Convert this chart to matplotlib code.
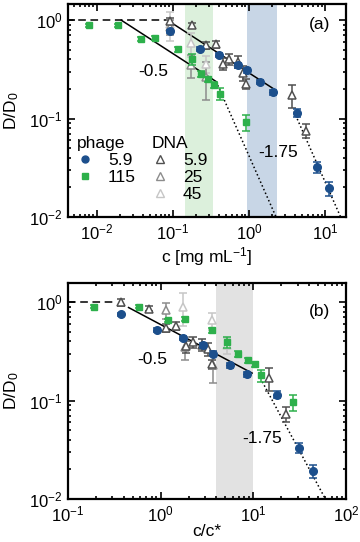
import matplotlib
matplotlib.use("Agg")
import matplotlib.pyplot as plt
from matplotlib.lines import Line2D
from matplotlib.ticker import LogLocator, NullFormatter

plt.rcParams["font.family"] = ["Liberation Sans", "DejaVu Sans"]
plt.rcParams["mathtext.default"] = "regular"
plt.rcParams["font.size"] = 12

BLUE = "#1c4f8c"
GREEN = "#2db04b"
DNA_COLORS = ["#505050", "#8c8c8c", "#c6c6c6"]

# ---- panel (a): D/D0 vs c [mg/mL] ----
phage59_c = [0.091, 0.224, 0.41, 0.72, 0.93, 1.38, 2.1, 4.3, 7.9, 11.2]
phage59_D_a = [0.77, 0.51, 0.44, 0.35, 0.31, 0.235, 0.185, 0.115, 0.032, 0.0195]
phage59_err_a = [0.03, 0.02, 0.02, 0.02, 0.02, 0.012, 0.01, 0.01, 0.004, 0.003]

phage115_c = [0.0078, 0.0192, 0.0387, 0.058, 0.117, 0.178, 0.236, 0.29, 0.352, 0.418, 0.91]
phage115_D_a = [0.89, 0.89, 0.65, 0.66, 0.51, 0.40, 0.286, 0.25, 0.222, 0.179, 0.092]
phage115_err_a = [0.03, 0.03, 0.03, 0.03, 0.03, 0.05, 0.02, 0.015, 0.015, 0.025, 0.017]

dna59_c = [0.091, 0.18, 0.274, 0.37, 0.45, 0.55, 0.72, 0.83, 0.91, 3.73, 5.56]
dna59_D_a = [0.98, 0.89, 0.555, 0.57, 0.36, 0.40, 0.38, 0.29, 0.226, 0.172, 0.0755]
dna59_err_a = [0.08, 0.05, 0.05, 0.05, 0.05, 0.05, 0.05, 0.05, 0.025, 0.045, 0.012]

dna25_c = [0.091, 0.175, 0.274]
dna25_D_a = [0.85, 0.35, 0.264]
dna25_err_a = [0.15, 0.09, 0.11]

dna45_c = [0.091, 0.175, 0.274]
dna45_D_a = [0.92, 0.58, 0.36]
dna45_err_a = [0.3, 0.16, 0.07]

# scaling guides (a)
dash_a_x, dash_a_y = [0.004, 0.085], [1.0, 1.0]
slow_a_x, slow_a_y = [0.021, 0.37], [1.0, 0.238]
fast_a_x, fast_a_y = [0.37, 2.27], [0.238, 0.01]
slow2_a_x, slow2_a_y = [0.085, 2.1], [1.0, 0.201]
fast2_a_x, fast2_a_y = [3.9, 16.0], [0.118, 0.01]
bands_a = [(0.144, 0.34, "#dcf0dc"), (0.95, 2.3, "#c8d6e6")]

# ---- panel (b): D/D0 vs c/c* ----
phage59_x = [0.37, 0.92, 1.75, 2.88, 3.65, 5.6, 8.55, 17.8, 31, 44]
phage59_D_b = [0.75, 0.52, 0.43, 0.365, 0.30, 0.228, 0.184, 0.115, 0.033, 0.0193]
phage59_err_b = [0.03, 0.02, 0.02, 0.02, 0.02, 0.012, 0.01, 0.01, 0.004, 0.003]

phage115_x = [0.19, 0.59, 1.2, 1.82, 3.6, 5.26, 6.9, 8.75, 10.5, 12.2, 27]
phage115_D_b = [0.9, 0.9, 0.65, 0.67, 0.52, 0.39, 0.295, 0.256, 0.233, 0.18, 0.096]
phage115_err_b = [0.03, 0.03, 0.03, 0.03, 0.03, 0.05, 0.02, 0.015, 0.015, 0.025, 0.017]

dna59_x = [0.37, 0.74, 1.13, 1.48, 1.87, 2.25, 2.77, 3.27, 3.55, 14.7, 22.3]
dna59_D_b = [1.0, 0.86, 0.55, 0.57, 0.355, 0.39, 0.37, 0.33, 0.236, 0.17, 0.073]
dna59_err_b = [0.08, 0.05, 0.05, 0.05, 0.05, 0.05, 0.05, 0.05, 0.025, 0.045, 0.012]

dna25_x = [1.13, 1.82, 3.7]
dna25_D_b = [0.83, 0.35, 0.23]
dna25_err_b = [0.15, 0.09, 0.08]

dna45_x = [1.75, 3.55, 5.2]
dna45_D_b = [0.9, 0.65, 0.365]
dna45_err_b = [0.33, 0.13, 0.07]

dash_b_x, dash_b_y = [0.1, 0.33], [1.0, 1.0]
slow_b_x, slow_b_y = [0.45, 9.7], [0.88, 0.19]
fast_b_x, fast_b_y = [12.5, 60.0], [0.155, 0.01]
bands_b = [(4.0, 10.0, "#e2e2e2")]


def draw_panel(ax, bands, guides, blue, green, dna_sets):
    for lo, hi, col in bands:
        ax.axvspan(lo, hi, color=col, lw=0, zorder=0)
    for xs, ys, ls in guides:
        ax.plot(xs, ys, color="black", ls=ls, lw=1.1, zorder=2)
    for (x, y, e), col in zip(dna_sets[::-1], DNA_COLORS[::-1]):
        ax.errorbar(x, y, yerr=e, fmt="^", mfc="white", mec=col, ecolor=col,
                    ms=6, mew=1.1, elinewidth=1.1, capsize=3, capthick=1.1, zorder=3)
    ax.errorbar(*green, fmt="s", color=GREEN, ms=5, elinewidth=1.1,
                capsize=3, capthick=1.1, zorder=4)
    ax.errorbar(*blue, fmt="o", color=BLUE, ms=5.5, elinewidth=1.1,
                capsize=3, capthick=1.1, zorder=5)
    ax.set_xscale("log")
    ax.set_yscale("log")
    ax.set_ylabel("D/D$_0$", fontsize=12.5, labelpad=6)
    for side in ax.spines.values():
        side.set_linewidth(1.6)
    ax.tick_params(which="both", direction="in", top=True, right=True, width=1.2)
    ax.tick_params(which="major", length=5, labelsize=12, pad=4)
    ax.tick_params(which="minor", length=2.5)
    ax.xaxis.set_minor_locator(LogLocator(base=10, subs=range(2, 10), numticks=20))
    ax.yaxis.set_minor_locator(LogLocator(base=10, subs=range(2, 10), numticks=20))
    ax.yaxis.set_minor_formatter(NullFormatter())
    ax.xaxis.set_minor_formatter(NullFormatter())


fig = plt.figure(figsize=(3.6, 5.42), dpi=100)
ax_a = fig.add_axes([0.189, 0.5996, 0.772, 0.393])
ax_b = fig.add_axes([0.189, 0.0793, 0.772, 0.3985])

draw_panel(
    ax_a, bands_a,
    [(dash_a_x, dash_a_y, (0, (5, 3))), (slow_a_x, slow_a_y, "-"), (fast_a_x, fast_a_y, ":"),
     (slow2_a_x, slow2_a_y, "-"), (fast2_a_x, fast2_a_y, ":")],
    (phage59_c, phage59_D_a, phage59_err_a),
    (phage115_c, phage115_D_a, phage115_err_a),
    [(dna59_c, dna59_D_a, dna59_err_a), (dna25_c, dna25_D_a, dna25_err_a),
     (dna45_c, dna45_D_a, dna45_err_a)],
)
ax_a.set_xlim(0.0042, 18.8)
ax_a.set_ylim(0.01, 1.46)
ax_a.set_xlabel("c [mg mL$^{-1}$]", fontsize=12.5, labelpad=2)
ax_a.text(0.306, 0.681, "-0.5", transform=ax_a.transAxes, ha="center", va="center", fontsize=12.5)
ax_a.text(0.755, 0.305, "-1.75", transform=ax_a.transAxes, ha="center", va="center", fontsize=12.5)
ax_a.text(0.904, 0.906, "(a)", transform=ax_a.transAxes, ha="center", va="center", fontsize=12.5)

phage_handles = [
    Line2D([], [], ls="none", marker="o", color=BLUE, ms=5),
    Line2D([], [], ls="none", marker="s", color=GREEN, ms=4.5),
]
leg1 = ax_a.legend(phage_handles, ["5.9", "115"], title="phage", loc="upper left",
                   bbox_to_anchor=(0.0, 0.42), frameon=False, borderpad=0,
                   handlelength=1.0, handletextpad=0.8, labelspacing=0.1,
                   fontsize=12.5, title_fontsize=12.5, alignment="left")
ax_a.add_artist(leg1)
dna_handles = [Line2D([], [], ls="none", marker="^", mfc="white", mec=col, mew=1, ms=5.5)
               for col in DNA_COLORS]
ax_a.legend(dna_handles, ["5.9", "25", "45"], title="DNA", loc="upper left",
            bbox_to_anchor=(0.27, 0.42), frameon=False, borderpad=0,
            handlelength=1.0, handletextpad=0.8, labelspacing=0.1,
            fontsize=12.5, title_fontsize=12.5, alignment="left")

draw_panel(
    ax_b, bands_b,
    [(dash_b_x, dash_b_y, (0, (5, 3))), (slow_b_x, slow_b_y, "-"), (fast_b_x, fast_b_y, ":")],
    (phage59_x, phage59_D_b, phage59_err_b),
    (phage115_x, phage115_D_b, phage115_err_b),
    [(dna59_x, dna59_D_b, dna59_err_b), (dna25_x, dna25_D_b, dna25_err_b),
     (dna45_x, dna45_D_b, dna45_err_b)],
)
ax_b.set_xlim(0.1, 100)
ax_b.set_ylim(0.01, 1.56)
ax_b.set_xlabel("c/c*", fontsize=12.5, labelpad=0)
ax_b.text(0.302, 0.648, "-0.5", transform=ax_b.transAxes, ha="center", va="center", fontsize=12.5)
ax_b.text(0.698, 0.278, "-1.75", transform=ax_b.transAxes, ha="center", va="center", fontsize=12.5)
ax_b.text(0.906, 0.87, "(b)", transform=ax_b.transAxes, ha="center", va="center", fontsize=12.5)

fig.savefig("out.png", dpi=100)
